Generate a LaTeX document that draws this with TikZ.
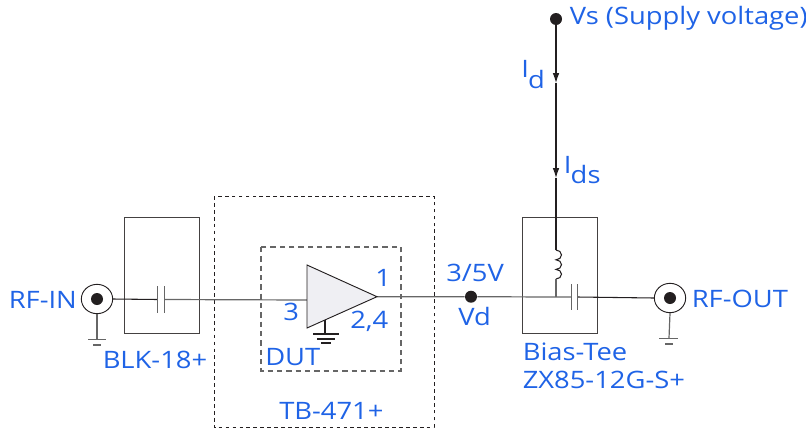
\documentclass[tikz,border=0pt]{standalone}
\usepackage{fontspec}
\setmainfont[FakeStretch=1.14]{Open Sans}
\usetikzlibrary{shapes.geometric,arrows.meta}
\definecolor{lbl}{HTML}{1F63E6}
\definecolor{wire}{HTML}{666666}
\definecolor{ink}{HTML}{231F20}
\definecolor{ampfill}{HTML}{EFEFF3}
\tikzset{
  lab/.style={text=lbl,font=\fontsize{18}{20}\selectfont,inner sep=0pt,anchor=base west},
  wireline/.style={draw=wire,line width=0.9pt},
  darkline/.style={draw=ink,line width=0.8pt},
  boxline/.style={draw=ink!85,line width=0.75pt},
  outerdash/.style={draw=ink,line width=0.7pt,dash pattern=on 2.8pt off 2.4pt},
  innerdash/.style={draw=wire,line width=0.8pt,dash pattern=on 4pt off 3pt},
  port/.style={ellipse,draw=ink,line width=0.7pt,fill=white,minimum width=23.5pt,minimum height=22pt,inner sep=0pt},
  dotn/.style={circle,fill=ink,minimum size=9pt,inner sep=0pt},
  curarrow/.style={-{Latex[length=7.5pt,width=5pt]},darkline}
}
\begin{document}
\begin{tikzpicture}[x=0.75pt,y=-0.75pt]
\useasboundingbox (0,0) rectangle (806,429);
% frames
\node[boxline,minimum width=56.25pt,minimum height=87pt,inner sep=0pt] (blk) at (161.5,275) {};
\node[boxline,minimum width=56.25pt,minimum height=87pt,inner sep=0pt] (tee) at (559.5,275) {};
\draw[outerdash] (214,196) rectangle (434,427);
\draw[innerdash] (261,247) rectangle (401,371);
% coordinates
\node[port] (in) at (97,299) {};
\node[dotn] at (in) {};
\node[port] (out) at (670,298) {};
\node[dotn] at (out) {};
\coordinate (capLa) at (157.5,299.5);
\coordinate (capLb) at (164.5,299.5);
\coordinate (ampin) at (307,300);
\coordinate (ampout) at (377,296.7);
\node[dotn] (vd) at (471,296.7) {};
\coordinate (capRa) at (571.5,297);
\coordinate (capRb) at (577.5,297);
\coordinate (tj) at (556,297);
\node[dotn] (vs) at (556,19) {};
\coordinate (a1) at (556,83);
\coordinate (a2) at (556,178);
\coordinate (la) at (556,250);
\coordinate (lb) at (556,279);
% wires
\draw[darkline] (in.east) -- (capLa);
\draw[wireline] (capLb) -- (ampin);
\draw[wireline] (ampout) -- (vd) -- (tj) -- (capRa);
\draw[darkline] (capRb) -- (out.west);
\draw[curarrow] (vs) -- (a1);
\draw[curarrow] (a1) -- (a2);
\draw[darkline] (a2) -- (la);
\draw[darkline] (la) arc[start angle=-90,end angle=90,x radius=5.5,y radius=4.9]
  arc[start angle=-90,end angle=90,x radius=5.5,y radius=4.8]
  arc[start angle=-90,end angle=90,x radius=5.5,y radius=4.8];
\draw[wireline] (lb) -- (tj);
% capacitors
\draw[wireline] (157.5,286) -- (157.5,313) (164.5,286) -- (164.5,313);
\draw[wireline] (571.5,284) -- (571.5,310) (577.5,284) -- (577.5,310);
% amplifier
\draw[draw=ink,line width=0.7pt,fill=ampfill] (307,265) -- (307,328) -- (377,296.7) -- cycle;
% grounds
\draw[wireline] (in.south) -- (97,339.5);
\draw[wireline] (88,339.5) -- (106,339.5) (93,345) -- (101,345);
\draw[wireline] (out.south) -- (669,338);
\draw[wireline] (659,338.5) -- (678,338.5) (665,344) -- (673,344);
\draw[darkline] (325,320) -- (325,334);
\draw[darkline] (313,334) -- (339,334) (317,339) -- (335,339) (321,343) -- (331,343);
% labels
\node[lab] (t1) at (8.5,308) {RF-IN};
\node[lab] (t2) at (691.5,307) {RF-OUT};
\node[lab] (t3) at (102.5,368) {BLK-18+};
\node[lab] (t4) at (522.5,360) {Bias-Tee};
\node[lab] (t5) at (522.5,388) {ZX85-12G-S+};
\node[lab] (t6) at (569.5,24) {Vs (Supply voltage)};
\node[lab] (t7) at (521,77) {I\kern-0.5pt\raisebox{-8.5pt}{d}};
\node[lab] (t9) at (563.5,173) {I\kern-0.5pt\raisebox{-8pt}{ds}};
\node[lab] (t11) at (375,286) {1};
\node[lab] (t12) at (283,320) {3};
\node[lab] (t13) at (350,328) {2,4};
\node[lab] (t14) at (265,365) {DUT};
\node[lab] (t15) at (446,281) {3/5V};
\node[lab] (t16) at (458,325) {Vd};
\node[lab] (t17) at (279,419) {TB-471+};
\end{tikzpicture}
\end{document}
